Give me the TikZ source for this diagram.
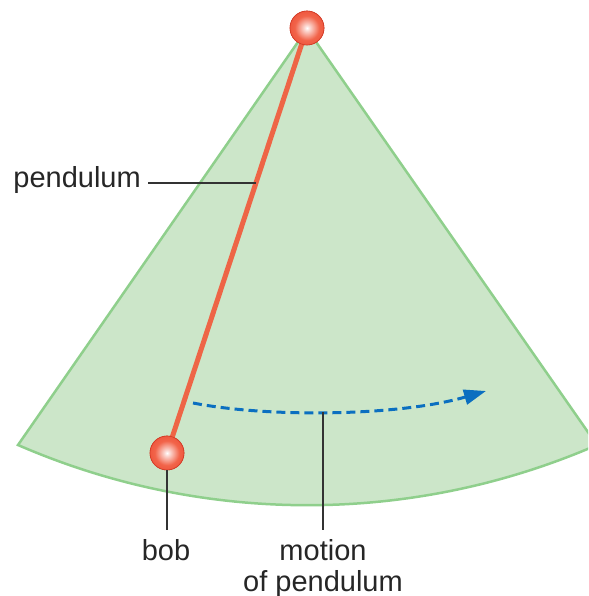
\documentclass[tikz,border=0pt]{standalone}
\usepackage{fontspec}
\setmainfont{Liberation Sans}
\usetikzlibrary{arrows.meta}
\definecolor{sectorfill}{HTML}{CCE6C9}
\definecolor{sectoredge}{HTML}{8FCF8C}
\definecolor{rodcol}{HTML}{EE6546}
\definecolor{ballout}{HTML}{E8402A}
\definecolor{ballmid}{HTML}{F2644A}
\definecolor{arrowblue}{HTML}{0B6FC0}
\definecolor{leadercol}{HTML}{333333}
\pgfdeclareradialshading{bobshade}{\pgfpoint{0bp}{0bp}}{color(0bp)=(white); color(4bp)=(white!75!ballmid); color(18bp)=(ballmid); color(40bp)=(ballout); color(50bp)=(ballout)}
\tikzset{
  ballnode/.style={circle, minimum size=34pt, inner sep=0pt, shading=bobshade, draw=ballout!90!black, line width=0.6pt},
  leader/.style={draw=leadercol, line width=1.4pt},
  labeltext/.style={font=\fontsize{29}{30}\selectfont, inner sep=0pt, text=black!85},
}
\begin{document}
\begin{tikzpicture}[x=1pt,y=1pt]
\useasboundingbox (0,0) rectangle (588,596);
% sector
\begin{scope}
\clip (0,0) rectangle (588,596);
\coordinate (apex) at (307,567);
\filldraw[fill=sectorfill, draw=sectoredge, line width=2.5pt, line join=miter]
  (apex) -- (18,151) arc[start angle=246.5, end angle=293.5, radius=726] -- cycle;
\end{scope}
% nodes
\node[ballnode] (pivot) at (307,568) {};
\node[ballnode] (bob) at (167,143) {};
% rod
\draw[rodcol, line width=5pt] (pivot.center) -- (bob.center);
\node[ballnode] at (307,568) {};
\node[ballnode] at (167,143) {};
% motion arrow
\coordinate (mstart) at (193,193);
\coordinate (mend) at (486,205);
\coordinate (mlow) at (323,184);
\draw[arrowblue, line width=3pt, dash pattern=on 9pt off 5pt,
  -{Triangle[length=22pt, width=15pt]}]
  (mstart) .. controls (270,178) and (400,180) .. (mend);
% labels
\node[labeltext, anchor=mid east] (lpend) at (141,411) {pendulum};
\coordinate (rodpt) at (256,413);
\draw[leader] (148,413) -- (rodpt);
\node[labeltext, anchor=base] (lbob) at (166,35) {bob};
\draw[leader] (bob.south) -- (167,66);
\node[labeltext, anchor=base] (lmotion) at (323,35) {motion};
\node[labeltext, anchor=base] (lof) at (323,5) {of pendulum};
\draw[leader] (mlow) -- (323,66);
\end{tikzpicture}
\end{document}
